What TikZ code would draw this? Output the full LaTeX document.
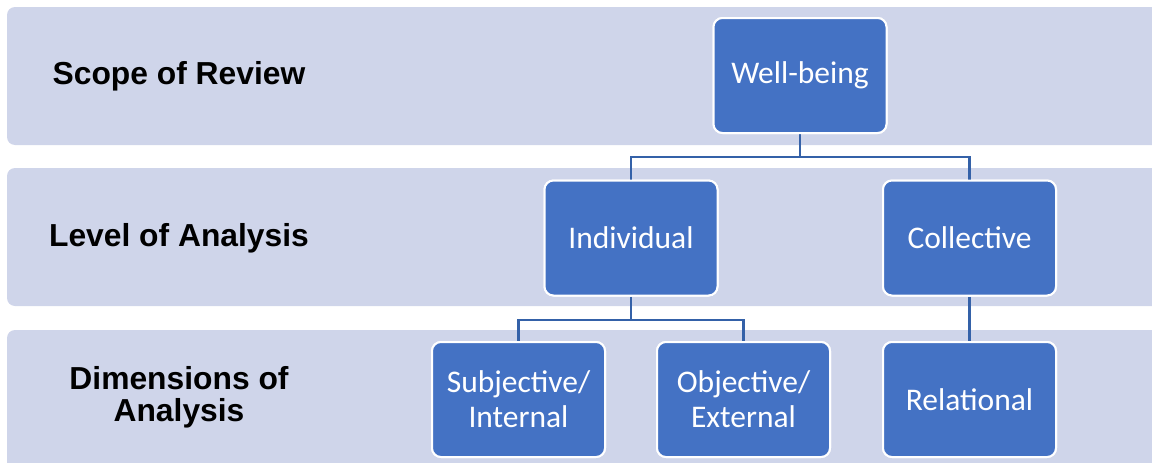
\documentclass[tikz,border=0pt]{standalone}
\usepackage{fontspec}
\setmainfont{Carlito}
\newfontfamily\labelfont{Liberation Sans}
\definecolor{bandfill}{HTML}{CFD5EA}
\definecolor{boxfill}{HTML}{4472C4}
\definecolor{linecol}{HTML}{3461A8}
\begin{document}
\begin{tikzpicture}[x=1pt,y=-1pt,
  band/.style={fill=bandfill,draw=none,rounded corners=8pt},
  boxnode/.style={fill=boxfill,draw=white,line width=2pt,rounded corners=9pt,
     minimum width=173pt,minimum height=115pt,text=white,align=center,
     font=\fontsize{31.5}{35}\selectfont,inner sep=0pt},
  lvl/.style={font=\labelfont\bfseries\fontsize{31.8}{32}\selectfont,align=center,text=black},
  conn/.style={draw=linecol,line width=2.5pt}]
\useasboundingbox (0,0) rectangle (1152,463);
% bands
\path[band] (7,7) rectangle (1160,145);
\path[band] (7,168) rectangle (1160,306);
\path[band] (7,330) rectangle (1160,475);
% level labels
\node[lvl] (scope) at (179,76) {Scope of Review};
\node[lvl] (level) at (179,238) {Level of Analysis};
\node[lvl] (dims) at (179,397) {Dimensions of\\Analysis};
% connector joints
\coordinate (j1) at (800,157);
\coordinate (j2) at (631,320);
% nodes
\node[boxnode] (wb) at (800,75.5) {Well-being};
\node[boxnode] (ind) at (631,238) {Individual};
\node[boxnode] (col) at (969.5,238) {Collective};
\node[boxnode] (sub) at (518.5,399.5) {Subjective/\\Internal};
\node[boxnode] (obj) at (743.5,399.5) {Objective/\\External};
\node[boxnode] (rel) at (969.5,399.5) {Relational};
% connectors
\draw[conn] (wb.south) -- (j1);
\draw[conn] (ind.north) |- (j1) -| (col.north);
\draw[conn] (ind.south) -- (j2);
\draw[conn] (sub.north) |- (j2) -| (obj.north);
\draw[conn] (col.south) -- (rel.north);
% redraw nodes on top of connector ends
\node[boxnode] at (wb) {Well-being};
\node[boxnode] at (ind) {Individual};
\node[boxnode] at (col) {Collective};
\node[boxnode] at (sub) {Subjective/\\Internal};
\node[boxnode] at (obj) {Objective/\\External};
\node[boxnode] at (rel) {Relational};
\end{tikzpicture}
\end{document}
